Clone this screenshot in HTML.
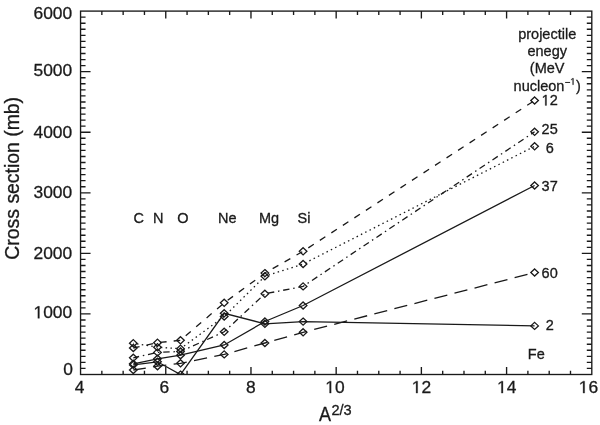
<!DOCTYPE html>
<html><head><meta charset="utf-8"><style>
html,body{margin:0;padding:0;background:#fff;}
svg{display:block;will-change:transform;}
text{font-family:"Liberation Sans",sans-serif;fill:#1a1a1a;stroke:#1a1a1a;stroke-width:0.3px;}
</style></head><body>
<svg width="600" height="425" viewBox="0 0 600 425">
<rect width="600" height="425" fill="#fff"/>
<defs><clipPath id="pc"><rect x="80.55" y="11.1" width="511.25" height="363.40"/></clipPath></defs>
<text x="33.49" y="19.1" font-size="17.4">6000</text>
<text x="33.49" y="76.3" font-size="17.4">5000</text>
<text x="33.49" y="137.8" font-size="17.4">4000</text>
<text x="33.49" y="198.0" font-size="17.4">3000</text>
<text x="33.49" y="258.8" font-size="17.4">2000</text>
<text x="33.49" y="318.3" font-size="17.4">&#8199;000</text>
<text x="63.32" y="374.7" font-size="17.4">0</text>
<text x="74.86" y="393.1" font-size="17.4">4</text>
<text x="159.46" y="393.1" font-size="17.4">6</text>
<text x="246.06" y="393.1" font-size="17.4">8</text>
<text x="325.22" y="393.1" font-size="17.4">&#8199;0</text>
<text x="411.72" y="393.1" font-size="17.4">&#8199;2</text>
<text x="497.02" y="393.1" font-size="17.4">&#8199;4</text>
<text x="578.72" y="393.1" font-size="17.4">&#8199;6</text>
<g clip-path="url(#pc)">
<polyline points="133.30,348.00 157.50,342.70 180.50,340.30 224.20,302.80 264.90,273.10 303.10,251.30 534.60,100.50" fill="none" stroke="#1a1a1a" stroke-width="1.3" stroke-dasharray="6.6 7.15" stroke-dashoffset="0.20"/>
<polyline points="133.30,343.20 157.50,347.20 180.50,348.70 224.20,316.50 264.90,276.30 303.10,264.00 534.60,146.30" fill="none" stroke="#1a1a1a" stroke-width="1.3" stroke-dasharray="1.5 3.32" stroke-dashoffset="1.06"/>
<polyline points="133.30,357.80 157.50,352.40 180.50,351.50 224.20,331.80 264.90,293.80 303.10,286.40 534.60,131.80" fill="none" stroke="#1a1a1a" stroke-width="1.3" stroke-dasharray="6.4 3.8 1.5 3.8" stroke-dashoffset="0.46"/>
<polyline points="133.30,363.80 157.50,358.80 180.50,355.20 224.20,345.00 264.90,321.50 303.10,305.50 534.60,185.50" fill="none" stroke="#1a1a1a" stroke-width="1.3"/>
<polyline points="133.30,364.90 157.50,361.80 180.50,374.60 224.20,313.30 264.90,323.80 303.10,321.60 534.60,325.90" fill="none" stroke="#1a1a1a" stroke-width="1.3"/>
<polyline points="133.30,370.00 157.50,366.20 180.50,363.30 224.20,354.40 264.90,343.00 303.10,332.30 534.60,272.50" fill="none" stroke="#1a1a1a" stroke-width="1.3" stroke-dasharray="13.3 7.4" stroke-dashoffset="0.63"/>
<path d="M133.30,344.45l3.8,3.55l-3.8,3.55l-3.8,-3.55zM157.50,339.15l3.8,3.55l-3.8,3.55l-3.8,-3.55zM180.50,336.75l3.8,3.55l-3.8,3.55l-3.8,-3.55zM224.20,299.25l3.8,3.55l-3.8,3.55l-3.8,-3.55zM264.90,269.55l3.8,3.55l-3.8,3.55l-3.8,-3.55zM303.10,247.75l3.8,3.55l-3.8,3.55l-3.8,-3.55zM534.60,96.95l3.8,3.55l-3.8,3.55l-3.8,-3.55z" fill="none" stroke="#1a1a1a" stroke-width="1.3"/>
<path d="M133.30,339.65l3.8,3.55l-3.8,3.55l-3.8,-3.55zM157.50,343.65l3.8,3.55l-3.8,3.55l-3.8,-3.55zM180.50,345.15l3.8,3.55l-3.8,3.55l-3.8,-3.55zM224.20,312.95l3.8,3.55l-3.8,3.55l-3.8,-3.55zM264.90,272.75l3.8,3.55l-3.8,3.55l-3.8,-3.55zM303.10,260.45l3.8,3.55l-3.8,3.55l-3.8,-3.55zM534.60,142.75l3.8,3.55l-3.8,3.55l-3.8,-3.55z" fill="none" stroke="#1a1a1a" stroke-width="1.3"/>
<path d="M133.30,354.25l3.8,3.55l-3.8,3.55l-3.8,-3.55zM157.50,348.85l3.8,3.55l-3.8,3.55l-3.8,-3.55zM180.50,347.95l3.8,3.55l-3.8,3.55l-3.8,-3.55zM224.20,328.25l3.8,3.55l-3.8,3.55l-3.8,-3.55zM264.90,290.25l3.8,3.55l-3.8,3.55l-3.8,-3.55zM303.10,282.85l3.8,3.55l-3.8,3.55l-3.8,-3.55zM534.60,128.25l3.8,3.55l-3.8,3.55l-3.8,-3.55z" fill="none" stroke="#1a1a1a" stroke-width="1.3"/>
<path d="M133.30,360.25l3.8,3.55l-3.8,3.55l-3.8,-3.55zM157.50,355.25l3.8,3.55l-3.8,3.55l-3.8,-3.55zM180.50,351.65l3.8,3.55l-3.8,3.55l-3.8,-3.55zM224.20,341.45l3.8,3.55l-3.8,3.55l-3.8,-3.55zM264.90,317.95l3.8,3.55l-3.8,3.55l-3.8,-3.55zM303.10,301.95l3.8,3.55l-3.8,3.55l-3.8,-3.55zM534.60,181.95l3.8,3.55l-3.8,3.55l-3.8,-3.55z" fill="none" stroke="#1a1a1a" stroke-width="1.3"/>
<path d="M133.30,361.35l3.8,3.55l-3.8,3.55l-3.8,-3.55zM157.50,358.25l3.8,3.55l-3.8,3.55l-3.8,-3.55zM180.50,371.05l3.8,3.55l-3.8,3.55l-3.8,-3.55zM224.20,309.75l3.8,3.55l-3.8,3.55l-3.8,-3.55zM264.90,320.25l3.8,3.55l-3.8,3.55l-3.8,-3.55zM303.10,318.05l3.8,3.55l-3.8,3.55l-3.8,-3.55zM534.60,322.35l3.8,3.55l-3.8,3.55l-3.8,-3.55z" fill="none" stroke="#1a1a1a" stroke-width="1.3"/>
<path d="M133.30,366.45l3.8,3.55l-3.8,3.55l-3.8,-3.55zM157.50,362.65l3.8,3.55l-3.8,3.55l-3.8,-3.55zM180.50,359.75l3.8,3.55l-3.8,3.55l-3.8,-3.55zM224.20,350.85l3.8,3.55l-3.8,3.55l-3.8,-3.55zM264.90,339.45l3.8,3.55l-3.8,3.55l-3.8,-3.55zM303.10,328.75l3.8,3.55l-3.8,3.55l-3.8,-3.55zM534.60,268.95l3.8,3.55l-3.8,3.55l-3.8,-3.55z" fill="none" stroke="#1a1a1a" stroke-width="1.3"/>
</g>
<rect x="80.55" y="11.1" width="511.25" height="363.40" fill="none" stroke="#1a1a1a" stroke-width="1.35"/>
<path d="M80.55,368.44h5M591.8,368.44h-5M80.55,362.39h5M591.8,362.39h-5M80.55,356.33h5M591.8,356.33h-5M80.55,350.27h5M591.8,350.27h-5M80.55,344.22h5M591.8,344.22h-5M80.55,338.16h5M591.8,338.16h-5M80.55,332.10h5M591.8,332.10h-5M80.55,326.05h5M591.8,326.05h-5M80.55,319.99h5M591.8,319.99h-5M80.55,313.93h10M591.8,313.93h-10M80.55,307.88h5M591.8,307.88h-5M80.55,301.82h5M591.8,301.82h-5M80.55,295.76h5M591.8,295.76h-5M80.55,289.71h5M591.8,289.71h-5M80.55,283.65h5M591.8,283.65h-5M80.55,277.59h5M591.8,277.59h-5M80.55,271.54h5M591.8,271.54h-5M80.55,265.48h5M591.8,265.48h-5M80.55,259.42h5M591.8,259.42h-5M80.55,253.37h10M591.8,253.37h-10M80.55,247.31h5M591.8,247.31h-5M80.55,241.25h5M591.8,241.25h-5M80.55,235.20h5M591.8,235.20h-5M80.55,229.14h5M591.8,229.14h-5M80.55,223.08h5M591.8,223.08h-5M80.55,217.03h5M591.8,217.03h-5M80.55,210.97h5M591.8,210.97h-5M80.55,204.91h5M591.8,204.91h-5M80.55,198.86h5M591.8,198.86h-5M80.55,192.80h10M591.8,192.80h-10M80.55,186.74h5M591.8,186.74h-5M80.55,180.69h5M591.8,180.69h-5M80.55,174.63h5M591.8,174.63h-5M80.55,168.57h5M591.8,168.57h-5M80.55,162.52h5M591.8,162.52h-5M80.55,156.46h5M591.8,156.46h-5M80.55,150.40h5M591.8,150.40h-5M80.55,144.35h5M591.8,144.35h-5M80.55,138.29h5M591.8,138.29h-5M80.55,132.23h10M591.8,132.23h-10M80.55,126.18h5M591.8,126.18h-5M80.55,120.12h5M591.8,120.12h-5M80.55,114.06h5M591.8,114.06h-5M80.55,108.01h5M591.8,108.01h-5M80.55,101.95h5M591.8,101.95h-5M80.55,95.89h5M591.8,95.89h-5M80.55,89.84h5M591.8,89.84h-5M80.55,83.78h5M591.8,83.78h-5M80.55,77.72h5M591.8,77.72h-5M80.55,71.67h10M591.8,71.67h-10M80.55,65.61h5M591.8,65.61h-5M80.55,59.55h5M591.8,59.55h-5M80.55,53.50h5M591.8,53.50h-5M80.55,47.44h5M591.8,47.44h-5M80.55,41.38h5M591.8,41.38h-5M80.55,35.33h5M591.8,35.33h-5M80.55,29.27h5M591.8,29.27h-5M80.55,23.21h5M591.8,23.21h-5M80.55,17.16h5M591.8,17.16h-5M101.85,374.5v-3.8M101.85,11.1v3.8M123.15,374.5v-3.8M123.15,11.1v3.8M144.46,374.5v-3.8M144.46,11.1v3.8M165.76,374.5v-7.5M165.76,11.1v7.5M187.06,374.5v-3.8M187.06,11.1v3.8M208.36,374.5v-3.8M208.36,11.1v3.8M229.66,374.5v-3.8M229.66,11.1v3.8M250.97,374.5v-7.5M250.97,11.1v7.5M272.27,374.5v-3.8M272.27,11.1v3.8M293.57,374.5v-3.8M293.57,11.1v3.8M314.87,374.5v-3.8M314.87,11.1v3.8M336.17,374.5v-7.5M336.17,11.1v7.5M357.48,374.5v-3.8M357.48,11.1v3.8M378.78,374.5v-3.8M378.78,11.1v3.8M400.08,374.5v-3.8M400.08,11.1v3.8M421.38,374.5v-7.5M421.38,11.1v7.5M442.69,374.5v-3.8M442.69,11.1v3.8M463.99,374.5v-3.8M463.99,11.1v3.8M485.29,374.5v-3.8M485.29,11.1v3.8M506.59,374.5v-7.5M506.59,11.1v7.5M527.89,374.5v-3.8M527.89,11.1v3.8M549.20,374.5v-3.8M549.20,11.1v3.8M570.50,374.5v-3.8M570.50,11.1v3.8" fill="none" stroke="#1a1a1a" stroke-width="1.35"/>
<text transform="translate(133.5,223.1) scale(1,1.05)" font-size="14.5">C</text>
<text transform="translate(152.9,223.1) scale(1,1.05)" font-size="14.5">N</text>
<text transform="translate(177.3,223.1) scale(1,1.05)" font-size="14.5">O</text>
<text transform="translate(218.0,223.1) scale(1,1.05)" font-size="14.5">Ne</text>
<text transform="translate(259.0,223.1) scale(1,1.05)" font-size="14.5">Mg</text>
<text transform="translate(297.5,223.1) scale(1,1.05)" font-size="14.5">Si</text>
<g transform="translate(541.60,105.4) scale(1,1.05)"><text x="0" y="0" font-size="14.5">&#8199;2</text><path d="M3.65,0.00 L3.65,-8.76 L1.39,-7.15 L1.39,-8.35 L3.75,-9.98 L4.93,-9.98 L4.93,0.00Z" fill="#1a1a1a" stroke="#1a1a1a" stroke-width="0.3"/></g>
<g transform="translate(541.60,134.0) scale(1,1.05)"><text x="0" y="0" font-size="14.5">25</text></g>
<g transform="translate(545.63,152.5) scale(1,1.05)"><text x="0" y="0" font-size="14.5">6</text></g>
<g transform="translate(541.60,191.0) scale(1,1.05)"><text x="0" y="0" font-size="14.5">37</text></g>
<g transform="translate(541.60,277.6) scale(1,1.05)"><text x="0" y="0" font-size="14.5">60</text></g>
<g transform="translate(545.63,330.0) scale(1,1.05)"><text x="0" y="0" font-size="14.5">2</text></g>
<text transform="translate(527.8,358.7) scale(1,1.05)" font-size="14.5">Fe</text>
<g font-size="14.5" text-anchor="middle">
<text x="547.2" y="38.7">projectile</text>
<text x="547.2" y="55.6">enegy</text>
<text x="547.2" y="73.3">(MeV</text>
</g>
<text x="513.6" y="90.8" font-size="14.5">nucleon</text>
<rect x="565.1" y="81.95" width="5.0" height="0.95" fill="#1a1a1a"/>
<text x="575.9" y="90.8" font-size="14.5">)</text>
<text transform="translate(18.8,178.3) rotate(-90) scale(1,1.045)" text-anchor="middle" font-size="19.4">Cross section (mb)</text>
<text transform="translate(319.0,420.6) scale(0.93,1)" font-size="19.4">A</text>
<text x="331.4" y="414.9" font-size="14.6">2/3</text>
<path d="M37.87,318.30 L37.87,307.79 L35.17,309.72 L35.17,308.27 L37.99,306.33 L39.41,306.33 L39.41,318.30ZM329.60,393.10 L329.60,382.59 L326.90,384.52 L326.90,383.07 L329.73,381.13 L331.14,381.13 L331.14,393.10ZM416.10,393.10 L416.10,382.59 L413.40,384.52 L413.40,383.07 L416.23,381.13 L417.64,381.13 L417.64,393.10ZM501.40,393.10 L501.40,382.59 L498.70,384.52 L498.70,383.07 L501.53,381.13 L502.94,381.13 L502.94,393.10ZM583.10,393.10 L583.10,382.59 L580.40,384.52 L580.40,383.07 L583.23,381.13 L584.64,381.13 L584.64,393.10ZM572.64,84.70 L572.64,79.08 L571.19,80.11 L571.19,79.34 L572.71,78.30 L573.46,78.30 L573.46,84.70Z" fill="#1a1a1a" stroke="#1a1a1a" stroke-width="0.3"/>
</svg>
</body></html>
